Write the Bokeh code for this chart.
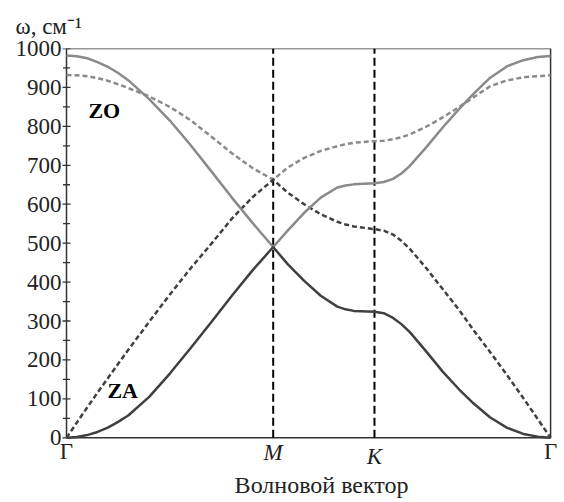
from bokeh.plotting import figure
from bokeh.models import Range1d, SingleIntervalTicker, Label
from bokeh.embed import file_html
from bokeh.resources import INLINE

# path coordinate along Γ-M-K-Γ (Γ-M length = 1)
q = [0.0, 0.05, 0.1, 0.15, 0.2, 0.25, 0.3, 0.4, 0.5, 0.6, 0.7, 0.8, 0.9, 1.0,
     1.07, 1.15, 1.23, 1.31, 1.35, 1.39, 1.49,
     1.535, 1.58, 1.62, 1.66, 1.74, 1.82, 1.90, 1.97, 2.05, 2.13, 2.21, 2.28, 2.342]

za_solid = [0, 2, 7, 15, 26, 41, 58, 105, 165, 230, 297, 365, 430, 490,
            446, 403, 365, 337, 330, 326, 324,
            320, 308, 292, 272, 222, 170, 124, 88, 52, 26, 10, 3, 0]
zo_solid = [982, 980, 975, 965, 953, 937, 918, 870, 815, 752, 685, 617, 552, 490,
            532, 578, 617, 643, 648, 651, 654,
            657, 665, 679, 698, 746, 797, 845, 884, 925, 954, 970, 978, 981]
za_dashed = [0, 39, 78, 116, 153, 190, 227, 298, 368, 435, 498, 563, 618, 663,
             630, 600, 574, 555, 548, 543, 536,
             532, 522, 506, 486, 436, 382, 328, 276, 220, 162, 102, 48, 0]
zo_dashed = [932, 931, 929, 924, 917, 908, 898, 877, 850, 816, 774, 731, 693, 663,
             694, 719, 737, 749, 754, 758, 762,
             763, 767, 772, 779, 799, 823, 850, 875, 903, 918, 926, 929, 931]

tick_pos = [0.0, 1.0, 1.49, 2.342]
tick_labels = ["Γ", "M", "K", "Γ"]
y_ticks = list(range(0, 1001, 100))
y_minor = [v + 50 for v in y_ticks[:-1]]

DARK = "#404040"
GRAY = "#8a8a8a"
FRAME = "#333333"
TXT = "#222222"
SERIF = "Liberation Serif"

p = figure(width=564, height=502, output_backend="svg", toolbar_location=None,
           x_axis_type=None,
           x_range=Range1d(-0.0387, 2.4093), y_range=Range1d(-166.2, 1000),
           min_border_left=58, min_border_right=0, min_border_top=48, min_border_bottom=0)
p.background_fill_color = "white"
p.border_fill_color = "white"
p.grid.visible = False
p.outline_line_color = None

# title  ω, см^-1
p.title.text = "ω, см⁻¹"
p.title.align = "left"
p.title.offset = -43
p.title.standoff = 20
p.title.text_font = SERIF
p.title.text_font_size = "23px"
p.title.text_font_style = "normal"
p.title.text_color = TXT

# y axis: labels only (ticks are drawn on the box edge below)
ax = p.yaxis[0]
ax.bounds = (y_ticks[0], y_ticks[-1])
ax.ticker = SingleIntervalTicker(interval=100, num_minor_ticks=2)
ax.axis_line_color = None
ax.major_tick_line_color = None
ax.minor_tick_line_color = None
ax.major_tick_in = 0
ax.major_tick_out = 0
ax.minor_tick_in = 0
ax.minor_tick_out = 0
ax.major_label_standoff = -3
ax.major_label_text_font = SERIF
ax.major_label_text_font_size = "23px"
ax.major_label_text_color = TXT

# plot box
p.quad(left=[tick_pos[0]], right=[tick_pos[-1]], bottom=[y_ticks[0]], top=[y_ticks[-1]],
       fill_color=None, line_color=FRAME, line_width=1.5)

# y ticks straddling the left edge of the box
p.scatter(x=[tick_pos[0]] * len(y_ticks), y=y_ticks, marker="dash", size=8,
          line_color=FRAME, line_width=1.3)
p.scatter(x=[tick_pos[0]] * len(y_minor), y=y_minor, marker="dash", size=7,
          line_color=FRAME, line_width=1.3)

# high-symmetry verticals
p.segment(x0=tick_pos[1:3], x1=tick_pos[1:3], y0=[y_ticks[0]] * 2, y1=[y_ticks[-1]] * 2,
          line_color="black", line_width=2, line_dash="8 4")

p.line(q, zo_dashed, line_color=GRAY, line_width=2.5, line_dash="5 3")
p.line(q, za_dashed, line_color=DARK, line_width=2.5, line_dash="5 3")
p.line(q, zo_solid, line_color=GRAY, line_width=2.5)
p.line(q, za_solid, line_color=DARK, line_width=2.5)

# branch labels
p.add_layout(Label(x=0.106, y=840, text="ZO", text_font=SERIF, text_font_style="bold",
                   text_font_size="22px", text_color="black", text_baseline="alphabetic"))
p.add_layout(Label(x=0.198, y=122, text="ZA", text_font=SERIF, text_font_style="bold",
                   text_font_size="22px", text_color="black", text_baseline="alphabetic"))

# x tick labels
label_y = [-35, -38.5, -48.5, -35]
for xv, t, yv in zip(tick_pos, tick_labels, label_y):
    style = "italic" if t in ("M", "K") else "normal"
    p.add_layout(Label(x=xv, y=yv, text=t, text_font=SERIF, text_font_style=style,
                       text_font_size="23px", text_color=TXT,
                       text_align="center", text_baseline="alphabetic"))

# x axis title
p.add_layout(Label(x=1.234, y=-121, text="Волновой вектор", text_font=SERIF,
                   text_font_size="24px", text_color=TXT,
                   text_align="center", text_baseline="alphabetic"))

open("out.html", "w").write(file_html(p, INLINE))
